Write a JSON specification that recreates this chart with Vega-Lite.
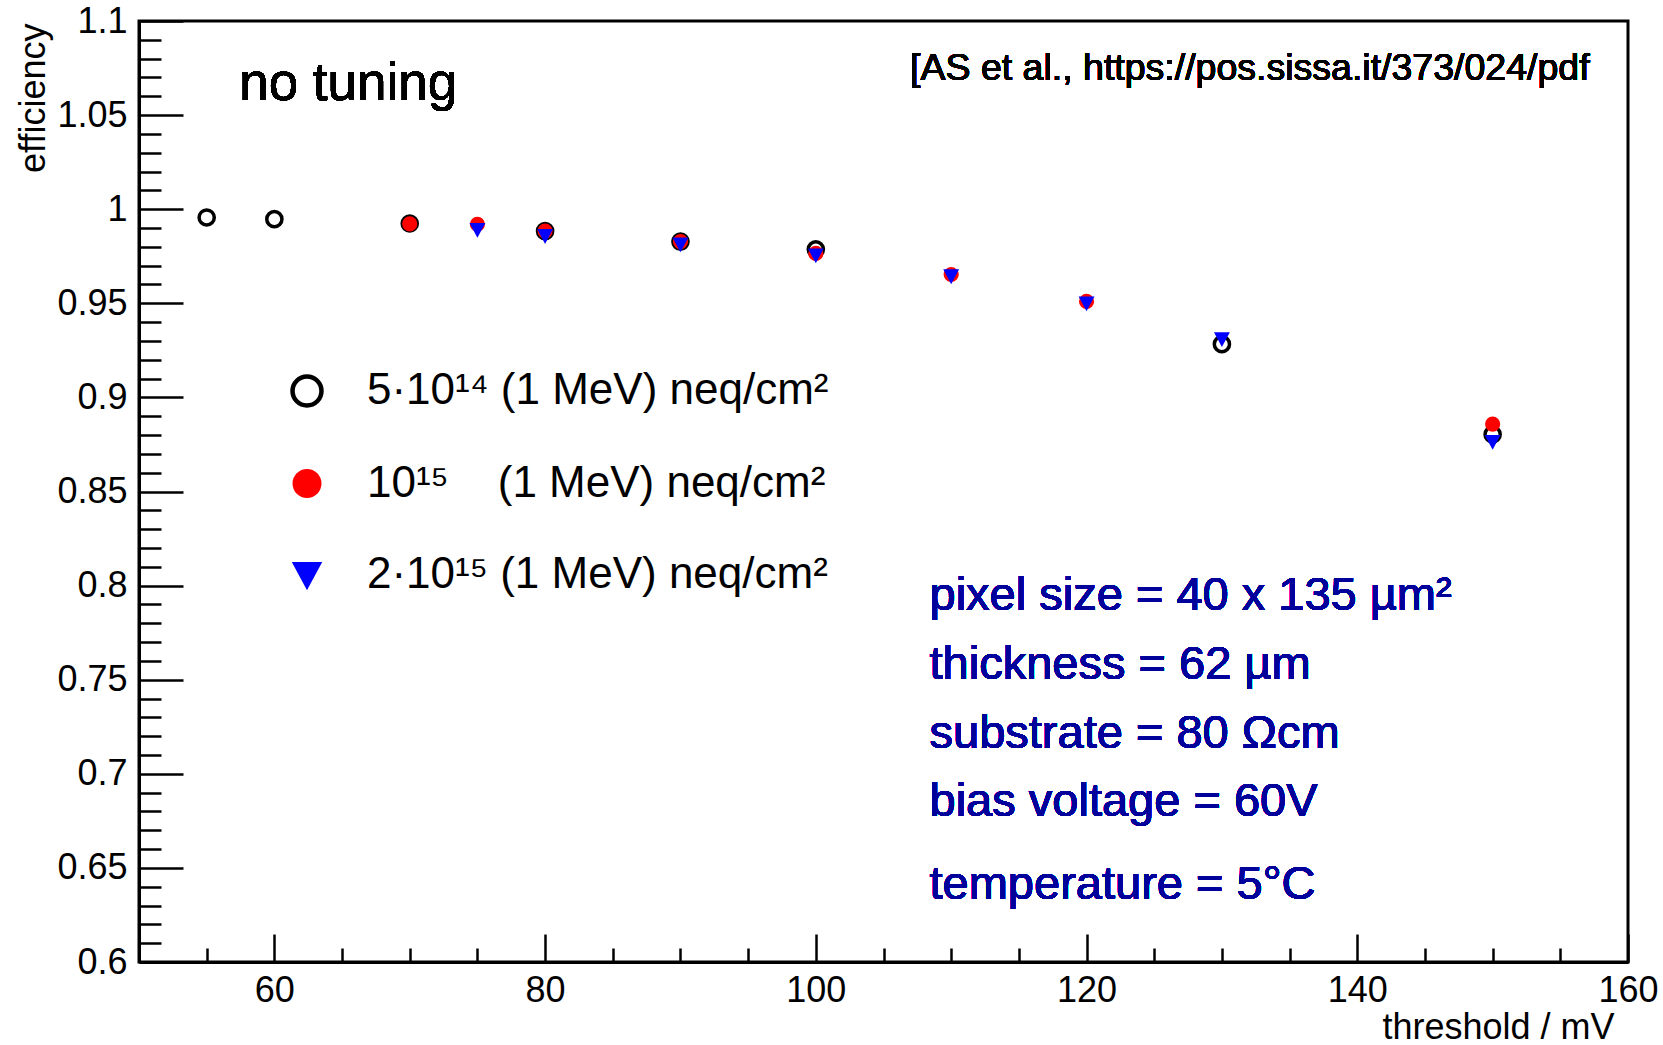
{
  "$schema": "https://vega.github.io/schema/vega-lite/v6.json",
  "width": 1489,
  "height": 941,
  "autosize": {"type": "none"},
  "padding": {"left": 139, "top": 21, "right": 35, "bottom": 83},
  "background": "white",
  "config": {
    "view": {"stroke": "black", "strokeWidth": 3},
    "font": "Liberation Sans",
    "text": {"font": "Liberation Sans"}
  },
  "data": {
    "values": [
      {"threshold": 55, "efficiency": 0.9956, "fluence": "5e14"},
      {"threshold": 60, "efficiency": 0.9947, "fluence": "5e14"},
      {"threshold": 70, "efficiency": 0.9924, "fluence": "5e14"},
      {"threshold": 80, "efficiency": 0.9884, "fluence": "5e14"},
      {"threshold": 90, "efficiency": 0.9828, "fluence": "5e14"},
      {"threshold": 100, "efficiency": 0.9787, "fluence": "5e14"},
      {"threshold": 130, "efficiency": 0.9283, "fluence": "5e14"},
      {"threshold": 150, "efficiency": 0.8803, "fluence": "5e14"},
      {"threshold": 70, "efficiency": 0.9922, "fluence": "1e15"},
      {"threshold": 75, "efficiency": 0.9920, "fluence": "1e15"},
      {"threshold": 80, "efficiency": 0.9884, "fluence": "1e15"},
      {"threshold": 90, "efficiency": 0.9828, "fluence": "1e15"},
      {"threshold": 100, "efficiency": 0.9765, "fluence": "1e15"},
      {"threshold": 110, "efficiency": 0.9653, "fluence": "1e15"},
      {"threshold": 120, "efficiency": 0.9510, "fluence": "1e15"},
      {"threshold": 150, "efficiency": 0.8858, "fluence": "1e15"},
      {"threshold": 75, "efficiency": 0.9890, "fluence": "2e15"},
      {"threshold": 80, "efficiency": 0.9858, "fluence": "2e15"},
      {"threshold": 90, "efficiency": 0.9813, "fluence": "2e15"},
      {"threshold": 100, "efficiency": 0.9755, "fluence": "2e15"},
      {"threshold": 110, "efficiency": 0.9644, "fluence": "2e15"},
      {"threshold": 120, "efficiency": 0.9500, "fluence": "2e15"},
      {"threshold": 130, "efficiency": 0.9310, "fluence": "2e15"},
      {"threshold": 150, "efficiency": 0.8764, "fluence": "2e15"}
    ]
  },
  "encoding": {
    "x": {
      "field": "threshold", "type": "quantitative",
      "scale": {"domain": [50, 160], "nice": false, "zero": false},
      "axis": {
        "values": [55, 60, 65, 70, 75, 80, 85, 90, 95, 100, 105, 110, 115, 120, 125, 130, 135, 140, 145, 150, 155, 160],
        "labelExpr": "datum.value % 20 === 0 ? datum.label : ''",
        "tickSize": {"condition": {"test": "datum.value % 20 === 0", "value": -28}, "value": -14},
        "labelPadding": {"condition": {"test": "datum.value % 20 === 0", "value": 39}, "value": 25},
        "tickColor": "black", "tickWidth": 2.5,
        "domainColor": "black", "domainWidth": 3,
        "labelFontSize": 36, "labelFont": "Liberation Sans", "labelColor": "black",
        "labelFlush": false, "labelOverlap": false, "grid": false,
        "title": "threshold / mV", "titleFontSize": 36, "titleFontWeight": "normal", "titleFont": "Liberation Sans", "titleColor": "black",
        "titleX": 1475, "titleY": 76, "titleAlign": "right", "titleBaseline": "alphabetic", "titleAngle": 0
      }
    },
    "y": {
      "field": "efficiency", "type": "quantitative",
      "scale": {"domain": [0.6, 1.1], "nice": false, "zero": false},
      "axis": {
        "values": [0.6, 0.61, 0.62, 0.63, 0.64, 0.65, 0.66, 0.67, 0.68, 0.69, 0.7, 0.71, 0.72, 0.73, 0.74, 0.75, 0.76, 0.77, 0.78, 0.79, 0.8, 0.81, 0.82, 0.83, 0.84, 0.85, 0.86, 0.87, 0.88, 0.89, 0.9, 0.91, 0.92, 0.93, 0.94, 0.95, 0.96, 0.97, 0.98, 0.99, 1.0, 1.01, 1.02, 1.03, 1.04, 1.05, 1.06, 1.07, 1.08, 1.09, 1.1],
        "labelExpr": "abs(round(datum.value*100) % 5) < 0.5 ? toString(round(datum.value*100)/100) : ''",
        "tickSize": {"condition": {"test": "abs(round(datum.value*100) % 5) < 0.5", "value": -44}, "value": -22},
        "labelPadding": {"condition": {"test": "abs(round(datum.value*100) % 5) < 0.5", "value": 56}, "value": 34},
        "tickColor": "black", "tickWidth": 2.5,
        "domainColor": "black", "domainWidth": 3,
        "labelFontSize": 36, "labelFont": "Liberation Sans", "labelColor": "black",
        "labelFlush": false, "labelOverlap": false, "grid": false,
        "title": "efficiency", "titleFontSize": 36, "titleFontWeight": "normal", "titleFont": "Liberation Sans", "titleColor": "black",
        "titleX": -95, "titleY": 2, "titleAlign": "right", "titleBaseline": "alphabetic", "titleAngle": -90
      }
    }
  },
  "layer": [
    {
      "mark": {"type": "point", "filled": false, "size": 230, "strokeWidth": 3.5, "opacity": 1},
      "encoding": {
        "shape": {"field": "fluence", "type": "nominal", "scale": {"domain": ["5e14", "1e15", "2e15"], "range": ["circle", "circle", "M-1.05,-0.9L1.05,-0.9L0,1.05Z"]}},
        "fill": {"field": "fluence", "type": "nominal", "scale": {"domain": ["5e14", "1e15", "2e15"], "range": ["transparent", "#ff0000", "#0000ff"]}},
        "stroke": {"field": "fluence", "type": "nominal", "scale": {"domain": ["5e14", "1e15", "2e15"], "range": ["#000000", "transparent", "transparent"]},
          "legend": {
            "orient": "none", "legendX": 146, "legendY": 348, "title": null,
            "symbolSize": 840, "symbolStrokeWidth": 4.5, "symbolOpacity": 1,
            "labelFontSize": 44, "labelFont": "Liberation Sans", "labelColor": "black",
            "labelOffset": 38, "rowPadding": 44.5, "padding": 0, "labelLimit": 1000,
            "labelExpr": "datum.value === '5e14' ? '5·10¹⁴ (1 MeV) neq/cm²' : datum.value === '1e15' ? '10¹⁵\u00a0\u00a0\u00a0\u00a0(1 MeV) neq/cm²' : '2·10¹⁵ (1 MeV) neq/cm²'"
          }
        }
      }
    },
    {
      "mark": {"type": "text", "align": "left", "baseline": "alphabetic", "fontSize": 53, "color": "black"},
      "encoding": {"x": {"datum": 57.4}, "y": {"datum": 1.058}, "text": {"value": "no tuning"}}
    },
    {
      "mark": {"type": "text", "align": "left", "baseline": "alphabetic", "fontSize": 37.5, "color": "black"},
      "encoding": {"x": {"datum": 106.96}, "y": {"datum": 1.0687}, "text": {"value": "[AS et al., https://pos.sissa.it/373/024/pdf"}}
    },
    {
      "mark": {"type": "text", "align": "left", "baseline": "alphabetic", "fontSize": 47, "color": "#00009a"},
      "encoding": {"x": {"datum": 108.4}, "y": {"datum": 0.787}, "text": {"value": "pixel size = 40 x 135 µm²"}}
    },
    {
      "mark": {"type": "text", "align": "left", "baseline": "alphabetic", "fontSize": 47, "color": "#00009a"},
      "encoding": {"x": {"datum": 108.4}, "y": {"datum": 0.7504}, "text": {"value": "thickness = 62 µm"}}
    },
    {
      "mark": {"type": "text", "align": "left", "baseline": "alphabetic", "fontSize": 47, "color": "#00009a"},
      "encoding": {"x": {"datum": 108.4}, "y": {"datum": 0.7137}, "text": {"value": "substrate = 80 Ωcm"}}
    },
    {
      "mark": {"type": "text", "align": "left", "baseline": "alphabetic", "fontSize": 47, "color": "#00009a"},
      "encoding": {"x": {"datum": 108.4}, "y": {"datum": 0.6776}, "text": {"value": "bias voltage = 60V"}}
    },
    {
      "mark": {"type": "text", "align": "left", "baseline": "alphabetic", "fontSize": 47, "color": "#00009a"},
      "encoding": {"x": {"datum": 108.4}, "y": {"datum": 0.6335}, "text": {"value": "temperature = 5°C"}}
    }
  ]
}
